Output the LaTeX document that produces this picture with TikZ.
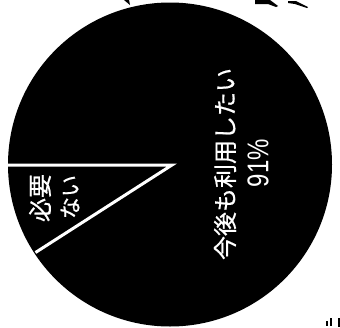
\documentclass[tikz,border=0pt]{standalone}
\usepackage{fontspec}
\newfontfamily\cjk[FakeBold=0.6]{Noto Sans CJK JP}
\setmainfont{Liberation Sans}
\tikzset{
  pielabel/.style={text=white,rotate=90,inner sep=0pt,font=\cjk\fontsize{24}{24}\selectfont},
  divider/.style={draw=white,line width=3pt},
  scrap/.style={fill=black,draw=none}
}
\begin{document}
\begin{tikzpicture}[x=1pt,y=-1pt]
\useasboundingbox (0,0) rectangle (340,327);
\fill[white] (0,0) rectangle (340,327);
\coordinate (c) at (170,164.5);
\fill[black] (c) circle[radius=162];
\coordinate (a) at (8,165);
\coordinate (b) at (35.5,252.5);
\coordinate (h) at (172,165);
\draw[divider,line join=miter] (a) -- (h) -- (b);
\node[pielabel] (main) at (225,164) {今後も利用したい};
\node[text=white,rotate=90,inner sep=0pt,font=\fontsize{30}{30}\selectfont,xscale=0.8] (pct) at (258,163) {91\%};
\node[pielabel] (need) at (40,198) {必要};
\node[pielabel,font=\cjk\fontsize{22}{22}\selectfont] (no) at (70,197) {ない};
\fill[scrap] (124,0) -- (129,0) -- (130,5) -- cycle;
\fill[scrap] (255,0) -- (270,0) -- (278,6) -- (276,7) -- (268,4) -- (255,4) -- cycle;
\fill[scrap] (288,1) -- (296,1) -- (308,7) -- (307,8) -- (295,4) -- (288,3) -- cycle;
\fill[scrap] (326,321) rectangle (328,326);
\fill[scrap] (330,318) rectangle (332,326);
\fill[scrap] (338,318) rectangle (340,327);
\end{tikzpicture}
\end{document}
